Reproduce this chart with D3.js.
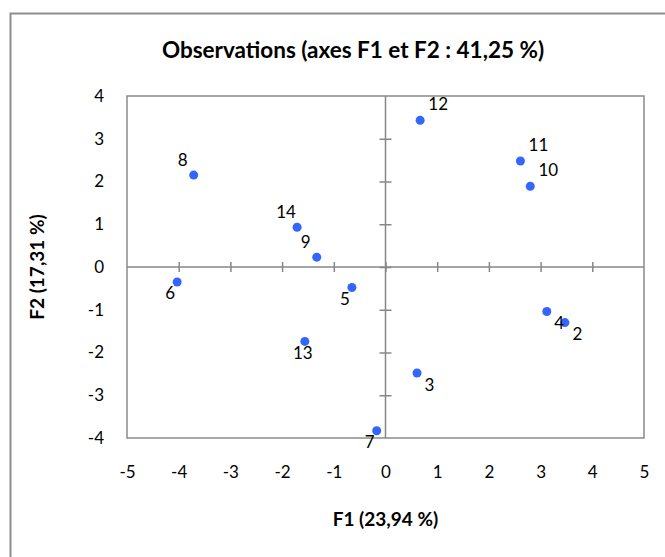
<!DOCTYPE html>
<html>
<head>
<meta charset="utf-8">
<script src="https://cdn.jsdelivr.net/npm/d3@7"></script>
<style>
  body { margin: 0; background: #fff; }
  text { font-family: Lato, "Open Sans", sans-serif; fill: #000; }
</style>
</head>
<body>
<div id="chart"></div>
<script>
// observation ids and their coordinates on the first two factors
var ids = ["2", "3", "4", "5", "6", "7", "8", "9", "10", "11", "12", "13", "14"];
var f1 = [3.47, 0.61, 3.12, -0.65, -4.03, -0.17, -3.71, -1.33, 2.80, 2.61, 0.67, -1.56, -1.71];
var f2 = [-1.30, -2.48, -1.04, -0.48, -0.35, -3.83, 2.15, 0.23, 1.89, 2.48, 3.43, -1.74, 0.93];
// which side of the point the label sits on
var labelSide = ["br", "br", "br", "bl", "bl", "bl", "tl", "tl", "tr", "tr", "tr", "b", "tl"];

var xTicks = [-5, -4, -3, -2, -1, 0, 1, 2, 3, 4, 5];
var yTicks = [-4, -3, -2, -1, 0, 1, 2, 3, 4];

var title = "Observations (axes F1 et F2 : 41,25 %)";
var xTitle = "F1 (23,94 %)";
var yTitle = "F2 (17,31 %)";

var width = 665, height = 557;
var margin = {top: 96, right: 21, bottom: 119, left: 127};
var w = width - margin.left - margin.right;
var h = height - margin.top - margin.bottom;

var svg = d3.select("#chart")
    .append("svg")
    .attr("width", width)
    .attr("height", height);

// outer chart frame (only top and left edges are in view)
svg.append("rect")
    .attr("x", 10.5)
    .attr("y", 13.5)
    .attr("width", 800)
    .attr("height", 800)
    .attr("fill", "none")
    .attr("stroke", "#8e8e8e")
    .attr("stroke-width", 2);

svg.append("text")
    .attr("x", 353)
    .attr("y", 49)
    .attr("text-anchor", "middle")
    .attr("dominant-baseline", "central")
    .style("font-size", "22.5px")
    .style("font-weight", "bold")
    .text(title);

var g = svg.append("g")
    .attr("transform", "translate(" + margin.left + "," + margin.top + ")");

var x = d3.scaleLinear().domain([-5, 5]).range([0, w]);
var y = d3.scaleLinear().domain([-4, 4]).range([h, 0]);

// plot border
g.append("rect")
    .attr("width", w)
    .attr("height", h)
    .attr("fill", "none")
    .attr("stroke", "#8a8a8a")
    .attr("stroke-width", 1.5);

// tick labels along bottom and left
var xLab = g.append("g")
    .attr("transform", "translate(0," + h + ")")
    .call(d3.axisBottom(x).tickValues(xTicks).tickSize(0).tickPadding(28).tickFormat(d => String(d)));
xLab.select(".domain").remove();

var yLab = g.append("g")
    .call(d3.axisLeft(y).tickValues(yTicks).tickSize(0).tickPadding(23).tickFormat(d => String(d)));
yLab.select(".domain").remove();

g.selectAll(".tick text")
    .style("font-family", "Lato, sans-serif")
    .style("font-size", "17px")
    .attr("fill", "#000");

// zero axes with ticks crossing the line
var xZero = g.append("g")
    .attr("transform", "translate(0," + y(0) + ")")
    .call(d3.axisBottom(x).tickValues(xTicks.slice(1, -1)).tickSize(5).tickFormat(""));
xZero.selectAll(".tick line").attr("y1", -5);

var yZero = g.append("g")
    .attr("transform", "translate(" + x(0) + ",0)")
    .call(d3.axisLeft(y).tickValues(yTicks.slice(1, -1)).tickSize(6).tickFormat(""));
yZero.selectAll(".tick line").attr("x1", 6);

g.selectAll(".domain, .tick line")
    .attr("stroke", "#878787")
    .attr("stroke-width", 1.5);
xZero.select(".domain").attr("d", "M0,0H" + w);
yZero.select(".domain").attr("d", "M0,0V" + h);

var pts = ids.map(function(id, i) {
    return {id: id, f1: f1[i], f2: f2[i], side: labelSide[i]};
});

g.selectAll("circle")
    .data(pts)
    .enter()
    .append("circle")
    .attr("cx", d => x(d.f1))
    .attr("cy", d => y(d.f2))
    .attr("r", 4.5)
    .attr("fill", "#3366ff");

var offsets = {
    tr: [18, -16.5],
    tl: [-11, -15.5],
    br: [12.5, 11],
    bl: [-7, 10.7],
    b: [-2, 11.4]
};

g.selectAll(".pt-label")
    .data(pts)
    .enter()
    .append("text")
    .attr("class", "pt-label")
    .attr("x", d => x(d.f1) + offsets[d.side][0])
    .attr("y", d => y(d.f2) + offsets[d.side][1])
    .attr("text-anchor", "middle")
    .attr("dominant-baseline", "central")
    .style("font-size", "17px")
    .text(d => d.id);

// axis titles
svg.append("text")
    .attr("x", margin.left + w / 2)
    .attr("y", 518)
    .attr("text-anchor", "middle")
    .attr("dominant-baseline", "central")
    .style("font-size", "19px")
    .style("font-weight", "bold")
    .text(xTitle);

svg.append("text")
    .attr("transform", "translate(36," + (margin.top + h / 2) + ") rotate(-90)")
    .attr("text-anchor", "middle")
    .attr("dominant-baseline", "central")
    .style("font-size", "19px")
    .style("font-weight", "bold")
    .text(yTitle);
</script>
</body>
</html>
